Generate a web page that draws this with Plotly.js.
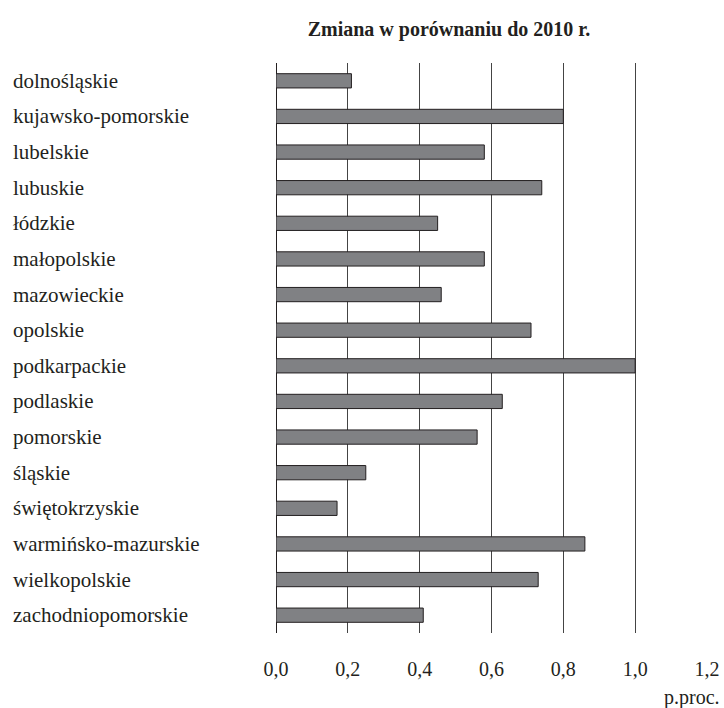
<!DOCTYPE html>
<html>
<head>
<meta charset="utf-8">
<script src="https://cdn.plot.ly/plotly-3.0.1.min.js"></script>
<style>html,body{margin:0;padding:0;background:#fff;}#chart{width:724px;height:708px;}</style>
</head>
<body>
<div id="chart"></div>
<script>
var regions = ["dolnośląskie","kujawsko-pomorskie","lubelskie","lubuskie","łódzkie","małopolskie","mazowieckie","opolskie","podkarpackie","podlaskie","pomorskie","śląskie","świętokrzyskie","warmińsko-mazurskie","wielkopolskie","zachodniopomorskie"];
var changes = [0.21,0.80,0.58,0.74,0.45,0.58,0.46,0.71,1.00,0.63,0.56,0.25,0.17,0.86,0.73,0.41];
var tickVals = [0,0.2,0.4,0.6,0.8,1.0,1.2];
var tickText = ["0,0","0,2","0,4","0,6","0,8","1,0","1,2"];
var chartTitle = "Zmiana w porównaniu do 2010 r.";
var unitLabel = "p.proc.";

var font = "Times New Roman, Liberation Serif, serif";

var annotations = regions.map(function(r){
  return {text: r, xref: 'paper', yref: 'y', x: -0.615, y: r, xanchor: 'left', yanchor: 'middle',
          showarrow: false, font: {family: font, size: 21, color: '#231f20'}};
});
annotations.push({text: unitLabel, xref: 'paper', yref: 'paper', x: 1, y: 0, xanchor: 'right', yanchor: 'middle',
  xshift: 15, yshift: -64, showarrow: false, font: {family: font, size: 20, color: '#231f20'}});

var trace = {
  type: 'bar', orientation: 'h', x: changes, y: regions,
  marker: {color: '#808184', line: {color: '#231f20', width: 1}},
  width: 0.4, hoverinfo: 'x+y'
};

var layout = {
  width: 724, height: 708,
  margin: {l: 276, r: 17, t: 63, b: 75},
  paper_bgcolor: '#fff', plot_bgcolor: '#fff',
  showlegend: false,
  font: {family: font},
  title: {text: '<b>' + chartTitle + '</b>', x: 449/724, xanchor: 'center', y: 1 - 29/708, yanchor: 'middle',
          font: {family: font, size: 20, color: '#231f20'}},
  xaxis: {range: [0, 1.2], tickvals: tickVals, ticktext: tickText, showgrid: true, gridcolor: '#444', gridwidth: 1,
          zeroline: true, zerolinecolor: '#231f20', zerolinewidth: 1, showline: false,
          ticks: 'outside', ticklen: 18, tickcolor: 'rgba(0,0,0,0)',
          tickfont: {family: font, size: 20, color: '#231f20'}, fixedrange: true},
  yaxis: {type: 'category', range: [15.5, -0.5], showticklabels: false, showgrid: false, zeroline: false,
          ticks: '', fixedrange: true},
  annotations: annotations
};

Plotly.newPlot('chart', [trace], layout, {displayModeBar: false, staticPlot: true});
</script>
</body>
</html>
